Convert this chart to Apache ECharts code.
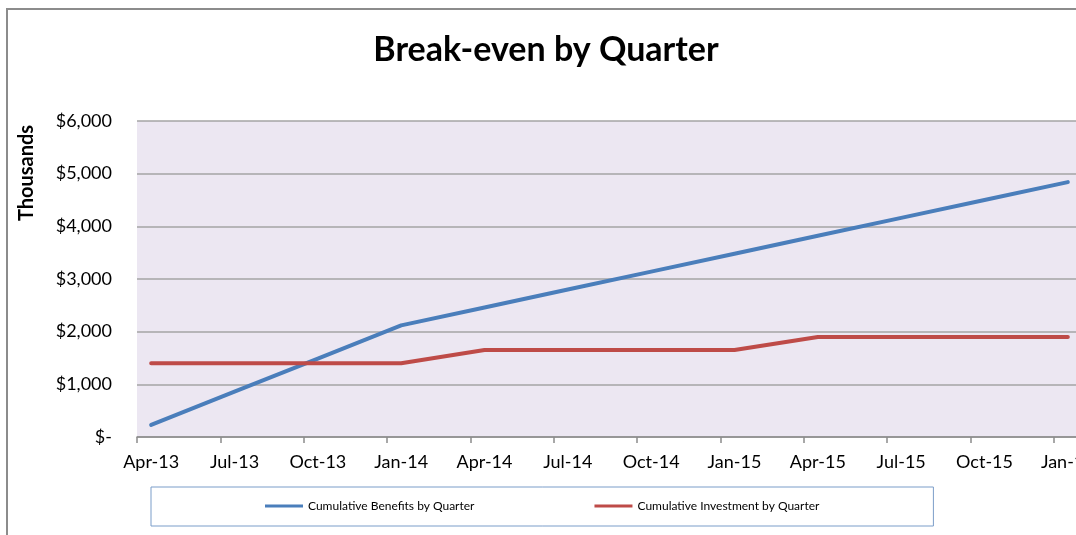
<!DOCTYPE html>
<html>
<head>
<meta charset="utf-8">
<script src="https://cdn.jsdelivr.net/npm/echarts@6/dist/echarts.min.js"></script>
<style>
  html, body { margin: 0; padding: 0; background: #fff; }
  #main { width: 1076px; height: 535px; }
</style>
</head>
<body>
<div id="main"></div>
<script>
// quarterly values, thousands of $
var quarters = ['Apr-13', 'Jul-13', 'Oct-13', 'Jan-14', 'Apr-14', 'Jul-14',
                'Oct-14', 'Jan-15', 'Apr-15', 'Jul-15', 'Oct-15', 'Jan-16'];
var benefits = [230, 860, 1490, 2120, 2460, 2800, 3140, 3480, 3820, 4160, 4500, 4840];
var investment = [1400, 1400, 1400, 1400, 1650, 1650, 1650, 1650, 1900, 1900, 1900, 1900];
var yTicks = [0, 1000, 2000, 3000, 4000, 5000, 6000];

// points sit a bit to the right of each tick mark (like the excel date axis)
var shift = 0.17;
var tickPos = quarters.map(function (q, i) { return i - shift; });
var labelPos = quarters.map(function (q, i) { return i; });

function pairs(arr) {
    return arr.map(function (v, i) { return [i, v]; });
}

var font = 'Lato';
var chart = echarts.init(document.getElementById('main'));

chart.setOption({
    backgroundColor: '#fff',
    animation: false,
    title: {
        text: 'Break-even by Quarter',
        left: 546,
        top: 33,
        textAlign: 'center',
        padding: 0,
        textStyle: { fontFamily: font, fontSize: 34, fontWeight: 'bold', color: '#000' }
    },
    graphic: [
        {
            type: 'rect',
            shape: { x: 7, y: 9, width: 1200, height: 700 },
            style: { fill: 'none', stroke: '#8c8c8c', lineWidth: 2 },
            silent: true
        },
        {
            type: 'text',
            x: 27,
            y: 173,
            rotation: Math.PI / 2,
            style: {
                text: 'Thousands',
                font: 'bold 20px ' + font,
                fill: '#000',
                align: 'center',
                verticalAlign: 'middle'
            }
        }
    ],
    legend: {
        left: 151,
        top: 487,
        padding: [13, 114, 14, 114],
        itemGap: 120,
        itemWidth: 38,
        itemHeight: 3,
        icon: 'rect',
        backgroundColor: '#fff',
        borderColor: '#7b9dc9',
        borderWidth: 1,
        textStyle: { fontFamily: font, fontSize: 12, color: '#000' },
        data: ['Cumulative Benefits by Quarter', 'Cumulative Investment by Quarter']
    },
    grid: {
        left: 137,
        top: 121,
        bottom: 98,
        right: -61,
        outerBoundsMode: 'none',
        show: true,
        backgroundColor: '#ece7f2',
        borderWidth: 0
    },
    xAxis: {
        type: 'value',
        min: -shift,
        max: quarters.length - shift,
        axisLine: { show: true, lineStyle: { color: '#8c8c8c', width: 1.5 } },
        axisTick: { show: true, length: 6, customValues: tickPos, lineStyle: { color: '#8c8c8c', width: 1.5 } },
        axisLabel: {
            customValues: labelPos,
            margin: 16,
            fontFamily: font,
            fontSize: 18,
            color: '#000',
            formatter: function (v) { return quarters[Math.round(v)]; }
        },
        splitLine: { show: false }
    },
    yAxis: {
        type: 'value',
        min: yTicks[0],
        max: yTicks[yTicks.length - 1],
        interval: yTicks[1] - yTicks[0],
        axisLine: { show: false },
        axisTick: { show: false },
        axisLabel: {
            margin: 25,
            fontFamily: font,
            fontSize: 18,
            color: '#000',
            formatter: function (v) {
                return v === 0 ? '$-' : '$' + v.toLocaleString('en-US');
            }
        },
        splitLine: { lineStyle: { color: '#a5a5a5', width: 1.5 } }
    },
    series: [
        {
            name: 'Cumulative Benefits by Quarter',
            type: 'line',
            data: pairs(benefits),
            showSymbol: false,
            color: '#4a7ebb',
            lineStyle: { width: 4, cap: 'round', join: 'round' }
        },
        {
            name: 'Cumulative Investment by Quarter',
            type: 'line',
            data: pairs(investment),
            showSymbol: false,
            color: '#be4b48',
            lineStyle: { width: 4, cap: 'round', join: 'round' }
        }
    ]
});
</script>
</body>
</html>
